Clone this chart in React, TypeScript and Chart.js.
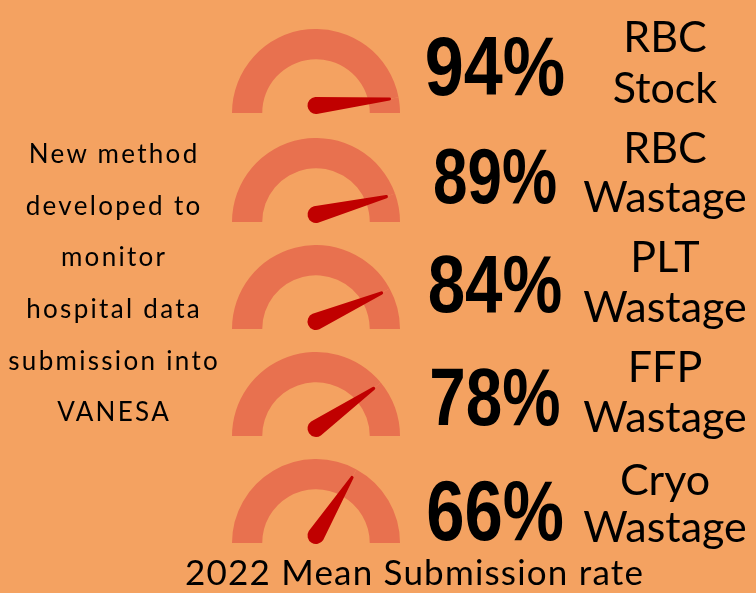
import React, { useEffect, useRef } from "react";
import { Chart, registerables } from "chart.js";

Chart.register(...registerables);

// ---------- data ----------
const VALUES = [94, 89, 84, 78, 66];
const LABEL_LINE1 = ["RBC", "RBC", "PLT", "FFP", "Cryo"];
const LABEL_LINE2 = ["Stock", "Wastage", "Wastage", "Wastage", "Wastage"];
const NOTE_LINES = [
  "New method",
  "developed to",
  "monitor",
  "hospital data",
  "submission into",
  "VANESA",
];
const TITLE = "2022 Mean Submission rate";

// ---------- layout / style ----------
const BG = "#F4A261";
const GAUGE = "#E8714F";
const NEEDLE = "#C00000";
const GAUGE_BASES = [113, 222, 329, 436, 543];
const GAUGE_LEFT = 232;
const GAUGE_R = 84;
const GAUGE_PAD = 12;
const NUM_BASES = [95, 203, 312, 425, 540];
const NUM_SIZES = [84, 78, 82, 82, 86];
const NUM_SCALE = [0.835, 0.795, 0.82, 0.8, 0.8];
const NUM_CX = 495;
const LBL_BASE1 = [52, 163, 272, 382, 495];
const LBL_BASE2 = [103, 212, 322, 432, 542];
const LBL_CX = 665;
const LBL_SIZE = 43;
const NOTE_CX = 113;
const NOTE_BASE0 = 163;
const NOTE_STEP = 51.7;
const NOTE_SIZE = 26;
const NOTE_SPACING = 2.3;
const TITLE_CX = 414;
const TITLE_BASE = 585.5;
const TITLE_SIZE = 35;
const TITLE_SPACING = 1.2;

const LATO_ASC = 0.887; // baseline offset for line-height 1
const ARIAL_ASC = 0.8465;

const needlePlugin = {
  id: "needle",
  afterDatasetsDraw(chart: any) {
    const arc = chart.getDatasetMeta(0).data[0];
    const { x, y, endAngle, outerRadius } = arc.getProps(
      ["x", "y", "endAngle", "outerRadius"],
      true
    );
    const ctx = chart.ctx;
    const tipR = outerRadius * 0.89;
    const tx = x + tipR * Math.cos(endAngle);
    const ty = y + tipR * Math.sin(endAngle);
    const px = x;
    const py = y - 7.5;
    const r0 = 8.5;
    const r1 = 1.6;
    const a = Math.atan2(ty - py, tx - px);
    const pa = a + Math.PI / 2;
    ctx.save();
    ctx.fillStyle = NEEDLE;
    ctx.beginPath();
    ctx.moveTo(px + r0 * Math.cos(pa), py + r0 * Math.sin(pa));
    ctx.lineTo(tx + r1 * Math.cos(pa), ty + r1 * Math.sin(pa));
    ctx.arc(tx, ty, r1, pa, a - Math.PI / 2, true);
    ctx.lineTo(px - r0 * Math.cos(pa), py - r0 * Math.sin(pa));
    ctx.arc(px, py, r0, a - Math.PI / 2, pa - 2 * Math.PI, true);
    ctx.closePath();
    ctx.fill();
    ctx.restore();
  },
};

function Gauge({ value, base }: { value: number; base: number }) {
  const ref = useRef<HTMLCanvasElement | null>(null);
  useEffect(() => {
    if (!ref.current) return;
    const chart = new Chart(ref.current, {
      type: "doughnut",
      data: {
        labels: ["value", "rest"],
        datasets: [
          {
            data: [value, 100 - value],
            backgroundColor: [GAUGE, GAUGE],
            borderColor: [GAUGE, GAUGE],
            borderWidth: 0,
            hoverOffset: 0,
          },
        ],
      },
      options: {
        responsive: false,
        animation: false,
        devicePixelRatio: 1,
        rotation: -90,
        circumference: 180,
        cutout: "64%",
        layout: { padding: { bottom: GAUGE_PAD } },
        events: [],
        plugins: { legend: { display: false }, tooltip: { enabled: false } },
      } as any,
      plugins: [needlePlugin as any],
    });
    return () => chart.destroy();
  }, [value]);
  const w = GAUGE_R * 2;
  const h = GAUGE_R + GAUGE_PAD;
  return (
    <canvas
      ref={ref}
      width={w}
      height={h}
      style={{
        position: "absolute",
        left: GAUGE_LEFT,
        top: base - GAUGE_R,
        width: w,
        height: h,
      }}
    />
  );
}

function TextLine({
  text,
  cx,
  baseline,
  size,
  family,
  weight,
  asc,
  spacing,
  scaleX,
}: {
  text: string;
  cx: number;
  baseline: number;
  size: number;
  family: string;
  weight: number;
  asc: number;
  spacing?: number;
  scaleX?: number;
}) {
  return (
    <div
      style={{
        position: "absolute",
        left: cx - 250,
        width: 500,
        top: baseline - asc * size,
        height: size,
        lineHeight: `${size}px`,
        fontSize: size,
        fontFamily: family,
        fontWeight: weight,
        letterSpacing: spacing ? `${spacing}px` : undefined,
        textIndent: spacing ? `${spacing}px` : undefined,
        textAlign: "center",
        whiteSpace: "nowrap",
        color: "#000",
        transform: scaleX ? `scaleX(${scaleX})` : undefined,
        transformOrigin: "center",
      }}
    >
      {text}
    </div>
  );
}

export default function App() {
  const lato = "Lato, 'Noto Sans', sans-serif";
  const numFont = "'Liberation Sans', Arial, sans-serif";
  return (
    <div
      style={{
        position: "absolute",
        left: 0,
        top: 0,
        width: 756,
        height: 593,
        background: BG,
        overflow: "hidden",
      }}
    >
      {VALUES.map((v, i) => (
        <Gauge key={"g" + i} value={v} base={GAUGE_BASES[i]} />
      ))}
      {VALUES.map((v, i) => (
        <TextLine
          key={"n" + i}
          text={`${v}%`}
          cx={NUM_CX}
          baseline={NUM_BASES[i]}
          size={NUM_SIZES[i]}
          family={numFont}
          weight={700}
          asc={ARIAL_ASC}
          scaleX={NUM_SCALE[i]}
        />
      ))}
      {LABEL_LINE1.map((t, i) => (
        <TextLine
          key={"a" + i}
          text={t}
          cx={LBL_CX}
          baseline={LBL_BASE1[i]}
          size={LBL_SIZE}
          family={lato}
          weight={400}
          asc={LATO_ASC}
        />
      ))}
      {LABEL_LINE2.map((t, i) => (
        <TextLine
          key={"b" + i}
          text={t}
          cx={LBL_CX}
          baseline={LBL_BASE2[i]}
          size={LBL_SIZE}
          family={lato}
          weight={400}
          asc={LATO_ASC}
        />
      ))}
      {NOTE_LINES.map((t, i) => (
        <TextLine
          key={"t" + i}
          text={t}
          cx={NOTE_CX}
          baseline={NOTE_BASE0 + NOTE_STEP * i}
          size={NOTE_SIZE}
          family={lato}
          weight={400}
          asc={LATO_ASC}
          spacing={NOTE_SPACING}
        />
      ))}
      <TextLine
        text={TITLE}
        cx={TITLE_CX}
        baseline={TITLE_BASE}
        size={TITLE_SIZE}
        family={lato}
        weight={400}
        asc={LATO_ASC}
        spacing={TITLE_SPACING}
      />
    </div>
  );
}
